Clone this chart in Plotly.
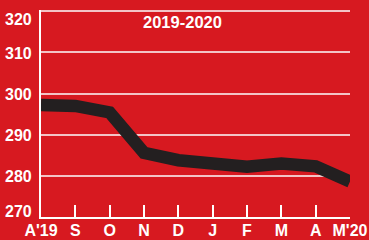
import plotly.graph_objects as go

months = ["A'19", "S", "O", "N", "D", "J", "F", "M", "A", "M'20"]
values = [297.2, 297.0, 295.4, 285.6, 283.8, 283.0, 282.2, 283.0, 282.3, 278.6]
y_ticks = [270, 280, 290, 300, 310, 320]
title_text = "2019-2020"

RED = "#d71920"
FONT_FAMILY = "Liberation Sans, Arial, sans-serif"
x_idx = list(range(len(months)))

fig = go.Figure()
fig.add_trace(go.Scatter(
    x=x_idx, y=values, mode="lines",
    line=dict(color="#231f20", width=12.5),
    hoverinfo="skip", cliponaxis=True,
))

font = dict(family=FONT_FAMILY, size=16, color="white")

# y-axis labels as annotations so the end labels can sit inside the plot range
annotations = []
for v in y_ticks:
    shift = -8 if v == max(y_ticks) else (6 if v == min(y_ticks) else -1)
    annotations.append(dict(
        text=f"<b>{v}</b>", x=0, xref="paper", y=v, yref="y",
        xanchor="right", yanchor="middle", xshift=-7, yshift=shift,
        showarrow=False, font=font,
    ))
annotations.append(dict(
    text=f"<b>{title_text}</b>", x=0.458, y=0.94, xref="paper", yref="paper",
    showarrow=False, font=dict(family=FONT_FAMILY, size=16.5, color="white"),
    xanchor="center", yanchor="middle",
))

fig.update_layout(
    width=369, height=240,
    paper_bgcolor=RED, plot_bgcolor=RED,
    margin=dict(l=41, r=19, t=10, b=23, autoexpand=False),
    showlegend=False,
    font=font,
    xaxis=dict(
        range=[0, 9], tickvals=x_idx, ticktext=[f"<b>{m}</b>" for m in months],
        showgrid=False, zeroline=False, automargin=False,
        showline=True, linecolor="white", linewidth=2,
        ticks="inside", ticklen=12, tickcolor="white", tickwidth=1.5,
        tickfont=font, ticklabelstandoff=-2,
    ),
    yaxis=dict(
        range=[270, 320.3], tickvals=y_ticks, showticklabels=False,
        showgrid=True, gridcolor="#f3c4c6", gridwidth=1.5, automargin=False,
        zeroline=False, showline=True, linecolor="white", linewidth=2,
        ticks="",
    ),
    annotations=annotations,
)

fig.write_html(
    "out.html",
    config={"displayModeBar": False},
    post_script="document.body.style.margin='0';document.body.style.overflow='hidden';",
)
